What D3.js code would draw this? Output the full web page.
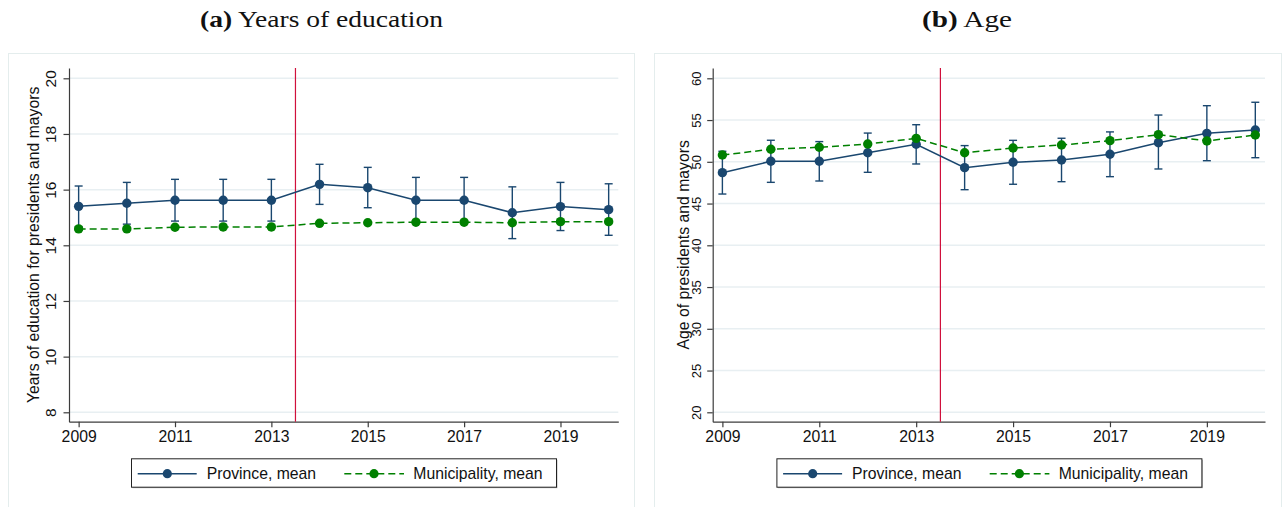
<!DOCTYPE html>
<html><head><meta charset="utf-8">
<script src="https://cdn.jsdelivr.net/npm/d3@7/dist/d3.min.js"></script>
<style>
body{margin:0;background:#fff}
svg{display:block}
.sans{font-family:"Liberation Sans",Arial,Helvetica,sans-serif}
.serif{font-family:"Liberation Serif","Times New Roman",serif}
</style>
</head><body>
<svg id="c" width="1282" height="507"></svg>
<script>
// ---------------- DATA ----------------
const years = [2009, 2010, 2011, 2012, 2013, 2014, 2015, 2016, 2017, 2018, 2019, 2020];
const xTicks = [2009, 2011, 2013, 2015, 2017, 2019];
const reformYear = 2013.5;
const seriesNames = ["Province, mean", "Municipality, mean"];

// (a) Years of education
const eduTicks = [8, 10, 12, 14, 16, 18, 20];
const eduProvMean = [15.40, 15.51, 15.62, 15.62, 15.62, 16.19, 16.07, 15.62, 15.62, 15.17, 15.39, 15.28];
const eduProvHi   = [16.13, 16.26, 16.37, 16.37, 16.37, 16.91, 16.80, 16.44, 16.44, 16.10, 16.26, 16.21];
const eduProvLo   = [14.67, 14.76, 14.87, 14.87, 14.87, 15.47, 15.35, 14.80, 14.80, 14.24, 14.53, 14.36];
const eduMuniMean = [14.59, 14.59, 14.65, 14.66, 14.66, 14.79, 14.81, 14.83, 14.83, 14.81, 14.85, 14.85];
const eduMuniHi   = [14.62, 14.62, 14.68, 14.69, 14.69, 14.82, 14.84, 14.86, 14.86, 14.84, 14.88, 14.88];
const eduMuniLo   = [14.56, 14.56, 14.62, 14.63, 14.63, 14.76, 14.78, 14.80, 14.80, 14.78, 14.82, 14.82];

// (b) Age
const ageTicks = [20, 25, 30, 35, 40, 45, 50, 55, 60];
const ageProvMean = [48.70, 50.06, 50.06, 51.09, 52.10, 49.30, 49.94, 50.22, 50.90, 52.29, 53.41, 53.81];
const ageProvHi   = [51.26, 52.58, 52.42, 53.44, 54.44, 51.94, 52.57, 52.82, 53.58, 55.60, 56.72, 57.13];
const ageProvLo   = [46.14, 47.54, 47.70, 48.74, 49.74, 46.66, 47.31, 47.62, 48.22, 49.14, 50.13, 50.49];
const ageMuniMean = [50.81, 51.50, 51.74, 52.13, 52.81, 51.09, 51.65, 52.01, 52.53, 53.25, 52.50, 53.21];
const ageMuniHi   = [50.96, 51.65, 51.89, 52.28, 52.96, 51.24, 51.80, 52.16, 52.68, 53.40, 52.65, 53.36];
const ageMuniLo   = [50.66, 51.35, 51.59, 51.98, 52.66, 50.94, 51.50, 51.86, 52.38, 53.10, 52.35, 53.06];

// ---------------- STYLE / LAYOUT ----------------
const NAVY = "#1a476f", GREEN = "#008000", RED = "#d0103c";
const GRID = "#e8eff2", AXIS = "#3c3c3c";
const FS = 15.75;

const panels = [
  { tag: "(a)", title: " Years of education", ytitle: "Years of education for presidents and mayors",
    yTicks: eduTicks, base: [8, 20], ytFS: 15.5, titleW: 243,
    prov: [eduProvMean, eduProvLo, eduProvHi], muni: [eduMuniMean, eduMuniLo, eduMuniHi],
    box: [8, 53, 626, 470], x0: 69, x1: 618.3, titleX: 321.5, tickOff: 19, titleOff: 36, legX: 131 },
  { tag: "(b)", title: " Age", ytitle: "Age of presidents and mayors",
    yTicks: ageTicks, base: [20, 60], ytFS: 13, titleW: 90,
    prov: [ageProvMean, ageProvLo, ageProvHi], muni: [ageMuniMean, ageMuniLo, ageMuniHi],
    box: [654, 53, 627, 470], x0: 712.7, x1: 1265, titleX: 967, tickOff: 16, titleOff: 29.4, legX: 776.4 }
];

const svg = d3.select("#c");
const TOP = 68, BOT = 421.7;

panels.forEach(p => {
  const g = svg.append("g");
  // title
  const t = g.append("text").attr("class", "serif").attr("x", p.titleX).attr("y", 27)
    .attr("text-anchor", "middle").attr("font-size", 23).attr("fill", "#111")
    .attr("textLength", p.titleW).attr("lengthAdjust", "spacingAndGlyphs");
  t.append("tspan").attr("font-weight", "bold").text(p.tag);
  t.append("tspan").text(p.title);

  // outer box
  g.append("rect").attr("x", p.box[0] + 0.5).attr("y", p.box[1] + 0.5)
    .attr("width", p.box[2]).attr("height", p.box[3])
    .attr("fill", "#fff").attr("stroke", "#e4eded").attr("stroke-width", 1);

  const x = d3.scaleLinear().domain([2008.8, 2020.2]).range([p.x0, p.x1]);
  const y0 = d3.scaleLinear().domain(p.base).range([412.3, 78.3]);
  const y = d3.scaleLinear().domain([y0.invert(BOT), y0.invert(TOP)]).range([BOT, TOP]);

  // grid
  g.append("g").selectAll("line").data(p.yTicks).join("line")
    .attr("x1", p.x0).attr("x2", p.x1)
    .attr("y1", d => y(d)).attr("y2", d => y(d))
    .attr("stroke", GRID).attr("stroke-width", 1.5);

  // y axis
  const ya = g.append("g").attr("transform", `translate(${p.x0},0)`)
    .call(d3.axisLeft(y).tickValues(p.yTicks).tickSize(5.5).tickSizeOuter(0));
  ya.attr("font-size", null).attr("font-family", null);
  ya.select(".domain").attr("stroke", AXIS).attr("stroke-width", 1.2);
  ya.selectAll(".tick line").attr("stroke", AXIS).attr("stroke-width", 1.2);
  ya.selectAll(".tick text").attr("class", "sans").attr("font-size", p.ytFS).attr("fill", "#111")
    .attr("x", null).attr("dy", "0.36em").attr("text-anchor", "middle")
    .attr("transform", `translate(${-p.tickOff},0) rotate(-90)`);

  // x axis
  const xa = g.append("g").attr("transform", `translate(0,${BOT})`)
    .call(d3.axisBottom(x).tickValues(xTicks).tickFormat(d3.format("d")).tickSize(5.5).tickSizeOuter(0).tickPadding(4));
  xa.attr("font-size", null).attr("font-family", null);
  xa.select(".domain").attr("stroke", AXIS).attr("stroke-width", 1.2);
  xa.selectAll(".tick line").attr("stroke", AXIS).attr("stroke-width", 1.2);
  xa.selectAll(".tick text").attr("class", "sans").attr("font-size", FS).attr("fill", "#111");

  // y title
  g.append("text").attr("class", "sans").attr("font-size", FS).attr("fill", "#111")
    .attr("text-anchor", "middle").attr("dy", "0.36em")
    .attr("transform", `translate(${p.x0 - p.titleOff},${(TOP + BOT) / 2}) rotate(-90)`)
    .text(p.ytitle);

  // reform line
  g.append("line").attr("x1", x(reformYear)).attr("x2", x(reformYear))
    .attr("y1", TOP).attr("y2", BOT).attr("stroke", RED).attr("stroke-width", 1.2);

  // error bars
  function ci(s, color, cap) {
    const [m, lo, hi] = s;
    const gg = g.append("g").attr("stroke", color).attr("stroke-width", 1.4).attr("fill", "none");
    years.forEach((yr, i) => {
      gg.append("line").attr("x1", x(yr)).attr("x2", x(yr)).attr("y1", y(lo[i])).attr("y2", y(hi[i]));
      gg.append("line").attr("x1", x(yr) - cap).attr("x2", x(yr) + cap).attr("y1", y(lo[i])).attr("y2", y(lo[i]));
      gg.append("line").attr("x1", x(yr) - cap).attr("x2", x(yr) + cap).attr("y1", y(hi[i])).attr("y2", y(hi[i]));
    });
  }
  ci(p.prov, NAVY, 4);
  ci(p.muni, GREEN, 3);

  function series(s, color, dash) {
    const m = s[0];
    const pts = years.map((yr, i) => [yr, m[i]]);
    g.append("path").datum(pts)
      .attr("d", d3.line().x(d => x(d[0])).y(d => y(d[1])))
      .attr("fill", "none").attr("stroke", color).attr("stroke-width", 1.5)
      .attr("stroke-dasharray", dash);
    g.append("g").selectAll("circle").data(pts).join("circle")
      .attr("cx", d => x(d[0])).attr("cy", d => y(d[1])).attr("r", 4.7).attr("fill", color);
  }
  series(p.prov, NAVY, null);
  series(p.muni, GREEN, "7,4");

  // legend
  const L = g.append("g").attr("transform", `translate(${p.legX},458.3)`);
  L.append("rect").attr("x", 1.5).attr("y", 1.5).attr("width", 425).attr("height", 28.4).attr("fill", "#bbb");
  L.append("rect").attr("x", 0.5).attr("y", 0.5).attr("width", 425).attr("height", 28.4)
    .attr("fill", "#fff").attr("stroke", "#222").attr("stroke-width", 1);
  const cy = 15.4;
  const items = [
    { name: seriesNames[0], color: NAVY, dash: null, l0: 6.7, l1: 65.7, mk: 36.3, tx: 75.7 },
    { name: seriesNames[1], color: GREEN, dash: "7,4", l0: 213.3, l1: 273, mk: 243, tx: 282.3 }
  ];
  items.forEach(it => {
    L.append("line").attr("x1", it.l0).attr("x2", it.l1).attr("y1", cy).attr("y2", cy)
      .attr("stroke", it.color).attr("stroke-width", 1.5).attr("stroke-dasharray", it.dash);
    L.append("circle").attr("cx", it.mk).attr("cy", cy).attr("r", 4.6).attr("fill", it.color);
    L.append("text").attr("class", "sans").attr("font-size", FS).attr("fill", "#111")
      .attr("x", it.tx).attr("y", cy).attr("dy", "0.36em").text(it.name);
  });
});
</script>
</body></html>
